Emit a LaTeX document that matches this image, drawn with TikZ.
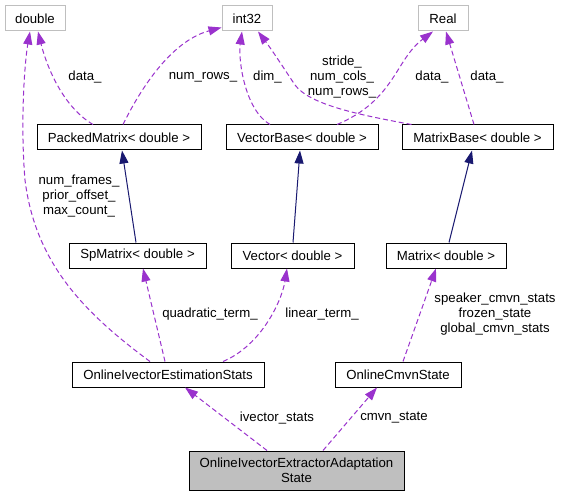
\documentclass[tikz,border=0pt]{standalone}
\usepackage{fontspec}
\setmainfont{Liberation Sans}
\usetikzlibrary{arrows.meta}
\definecolor{dpurple}{HTML}{9A32CD}
\definecolor{dnavy}{HTML}{191970}
\definecolor{dgray}{HTML}{BFBFBF}
\begin{document}
\begin{tikzpicture}[x=1pt,y=-1pt,
  every node/.style={font=\fontsize{13.2}{15}\selectfont, inner sep=0pt},
  cls/.style={draw=black, line width=1pt, fill=white, minimum height=25pt},
  ext/.style={draw=dgray, line width=1pt, fill=white, minimum height=25pt},
  mainbox/.style={draw=black, line width=1pt, fill=dgray, minimum height=39pt, align=center},
  uses/.style={draw=dpurple, line width=1pt, dash pattern=on 5pt off 3pt, -{Triangle[length=13pt,width=9pt]}},
  inh/.style={draw=dnavy, line width=1pt, -{Triangle[length=13pt,width=9pt]}},
  lbl/.style={align=center, text=black}
]
\useasboundingbox (0,0) rectangle (562,497);
\fill[white] (0,0) rectangle (562,497);

% nodes
\node[ext, minimum width=60pt] (dbl) at (35,18.5) {double};
\node[ext, minimum width=50pt] (i32) at (247,18.5) {int32};
\node[ext, minimum width=50pt] (real) at (443,18.5) {Real};
\node[cls, minimum width=164pt] (pm) at (119,137.5) {PackedMatrix< double >};
\node[cls, minimum width=152pt] (vb) at (302,137.5) {VectorBase< double >};
\node[cls, minimum width=151pt] (mb) at (477.5,137.5) {MatrixBase< double >};
\node[cls, minimum width=137pt] (sp) at (137.5,255.5) {SpMatrix< double >};
\node[cls, minimum width=123pt] (vec) at (292.5,255.5) {Vector< double >};
\node[cls, minimum width=120pt] (mat) at (446,255.5) {Matrix< double >};
\node[cls, minimum width=192pt] (oies) at (168,374.5) {OnlineIvectorEstimationStats};
\node[cls, minimum width=126pt] (ocs) at (398,374.5) {OnlineCmvnState};
\node[mainbox, minimum width=215pt] (oieas) at (296.5,470.5) {OnlineIvectorExtractorAdaptation\\State};

% inheritance
\draw[inh] ([xshift=-1.5pt]sp.north) -- ([xshift=3pt]pm.south);
\draw[inh] ([xshift=0.5pt]vec.north) -- ([xshift=-2pt]vb.south);
\draw[inh] ([xshift=3pt]mat.north) -- ([xshift=-5.5pt]mb.south);

% usage
\draw[uses] ([xshift=-26pt]pm.north) .. controls (60,105) and (45,60) .. ([xshift=3pt]dbl.south);
\draw[uses] ([xshift=-18pt]oies.north) .. controls (80,310) and (35,260) .. (25,180) .. controls (20,120) and (25,60) .. ([xshift=-5pt]dbl.south);
\draw[uses] ([xshift=4pt]pm.north) .. controls (145,80) and (175,40) .. ([yshift=4pt]i32.south west);
\draw[uses] ([xshift=-32pt]vb.north) .. controls (245,110) and (238,60) .. ([xshift=-5pt]i32.south);
\draw[uses] ([xshift=-66pt]mb.north) .. controls (360,115) and (310,105) .. (295,85) .. controls (285,70) and (272,50) .. ([xshift=11pt]i32.south);
\draw[uses] ([xshift=35pt]vb.north) .. controls (395,100) and (395,60) .. ([xshift=-10pt]real.south);
\draw[uses] ([xshift=-3.5pt]mb.north) -- ([xshift=3pt]real.south);
\draw[uses] ([xshift=-3pt]oies.north) -- ([xshift=5.5pt]sp.south);
\draw[uses] ([xshift=55pt]oies.north) .. controls (262,345) and (282,300) .. ([xshift=-5.5pt]vec.south);
\draw[uses] ([xshift=5pt]ocs.north) -- ([xshift=-10pt]mat.south);
\draw[uses] ([xshift=-29.5pt]oieas.north) -- ([xshift=17pt]oies.south);
\draw[uses] ([xshift=26.5pt]oieas.north) -- ([xshift=-21pt]ocs.south);

% labels
\node[lbl] (l1) at (85,77) {data\_};
\node[lbl] (l2) at (203,77) {num\_rows\_};
\node[lbl] (l3) at (267.5,77) {dim\_};
\node[lbl] (l4) at (342,77) {stride\_\\num\_cols\_\\num\_rows\_};
\node[lbl] (l5) at (432,77) {data\_};
\node[lbl] (l6) at (487,77) {data\_};
\node[lbl] (l7) at (79,196) {num\_frames\_\\prior\_offset\_\\max\_count\_};
\node[lbl] (l8) at (210,314) {quadratic\_term\_};
\node[lbl] (l9) at (322,314) {linear\_term\_};
\node[lbl] (l10) at (495,314) {speaker\_cmvn\_stats\\frozen\_state\\global\_cmvn\_stats};
\node[lbl] (l11) at (277,418) {ivector\_stats};
\node[lbl] (l12) at (394,418) {cmvn\_state};
\end{tikzpicture}
\end{document}
